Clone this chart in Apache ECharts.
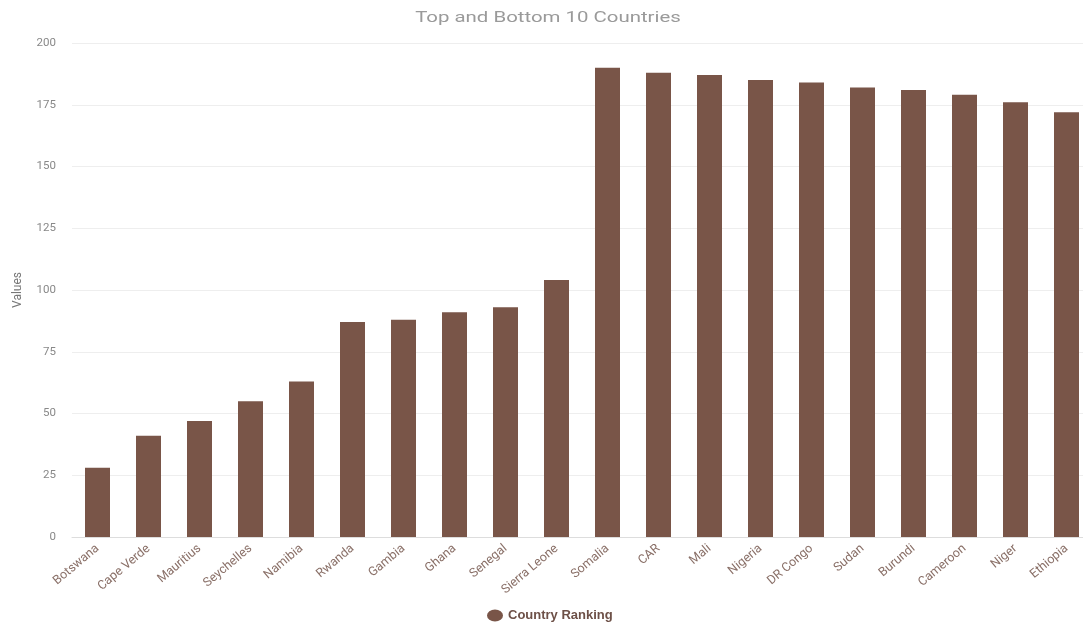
<!DOCTYPE html>
<html>
<head>
<meta charset="utf-8">
<script src="https://cdn.jsdelivr.net/npm/echarts@6/dist/echarts.min.js"></script>
<style>
  html, body { margin: 0; padding: 0; background: #fff; overflow: hidden; }
  /* the plot runs slightly past the right edge of the window */
  #chart { width: 1095px; height: 622px; }
</style>
</head>
<body>
<div id="chart"></div>
<script>
// Countries: bottom 10 followed by top 10
const countries = ['Botswana', 'Cape Verde', 'Mauritius', 'Seychelles', 'Namibia', 'Rwanda', 'Gambia', 'Ghana', 'Senegal', 'Sierra Leone',
  'Somalia', 'CAR', 'Mali', 'Nigeria', 'DR Congo', 'Sudan', 'Burundi', 'Cameroon', 'Niger', 'Ethiopia'];
const rankingValues = [28, 41, 47, 55, 63, 87, 88, 91, 93, 104,
  190, 188, 187, 185, 184, 182, 181, 179, 176, 172];
const yTicks = { min: 0, max: 200, interval: 25 };
const chartTitle = 'Top and Bottom 10 Countries';

const chart = echarts.init(document.getElementById('chart'));
chart.setOption({
  animation: false,
  textStyle: { fontFamily: 'Roboto' },
  // title drawn as a widened text element
  graphic: [{
    type: 'text',
    x: 548,
    y: 18,
    scaleX: 1.36,
    style: {
      text: chartTitle,
      fontFamily: 'Roboto',
      fontSize: 15,
      fill: '#9a9a9a',
      textAlign: 'center',
      textVerticalAlign: 'middle'
    }
  }],
  legend: {
    top: 604,
    left: 482,
    icon: 'path://M0,6a8,6 0 1,0 16,0a8,6 0 1,0 -16,0z',
    itemWidth: 16,
    itemHeight: 12,
    itemGap: 8,
    textStyle: { fontFamily: 'Liberation Sans', fontSize: 13, fontWeight: 'bold', color: '#6d5047' }
  },
  grid: { left: 72, top: 43, right: 3, height: 494 },
  xAxis: {
    type: 'category',
    data: countries,
    axisLine: { lineStyle: { color: '#dddddd' } },
    axisTick: { show: false },
    axisLabel: { rotate: 40, interval: 0, fontSize: 12.5, color: '#8a7068', margin: 10 }
  },
  yAxis: {
    type: 'value',
    min: yTicks.min,
    max: yTicks.max,
    interval: yTicks.interval,
    name: 'Values',
    nameLocation: 'middle',
    nameGap: 48,
    nameTextStyle: { fontSize: 12, color: '#777777' },
    axisLine: { show: false },
    axisTick: { show: false },
    axisLabel: { fontSize: 11.5, color: '#888888', margin: 16 },
    splitLine: { lineStyle: { color: '#eeeeee' } }
  },
  series: [{
    name: 'Country Ranking',
    type: 'bar',
    data: rankingValues,
    barWidth: 25,
    itemStyle: { color: '#795548' }
  }]
});
</script>
</body>
</html>
